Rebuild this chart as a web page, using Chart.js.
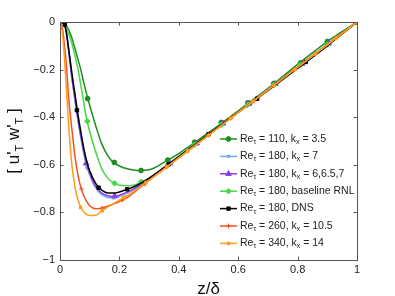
<!DOCTYPE html>
<html>
<head>
<meta charset="utf-8">
<script src="https://cdn.jsdelivr.net/npm/chart.js@4.4.1/dist/chart.umd.min.js"></script>
<style>
  html, body { margin: 0; padding: 0; background: #fff; }
  #wrap { width: 395px; height: 296px; }
</style>
</head>
<body>
<div id="wrap"><canvas id="chart" width="395" height="296"></canvas></div>
<script>
// ---- data ----
// wall-normal position z/delta shared by all curves
const zGrid = [0, 0.005, 0.01, 0.015, 0.02, 0.03, 0.04, 0.05, 0.06, 0.07, 0.08, 0.09, 0.10, 0.12, 0.14,
  0.16, 0.18, 0.20, 0.23, 0.26, 0.30, 0.35, 0.40, 0.50, 0.60, 0.70, 0.80, 0.90, 1.0];

// [u'_T w'_T] profiles
const uwRe110 = [0, -0.001, -0.003, -0.007, -0.012, -0.035, -0.067, -0.11, -0.155, -0.2, -0.255, -0.305, -0.35, -0.435, -0.51,
  -0.56, -0.59, -0.605, -0.618, -0.624, -0.621, -0.59, -0.553, -0.465, -0.373, -0.279, -0.178, -0.082, 0];
const uwRe180k7 = [0, -0.001, -0.004, -0.012, -0.03, -0.13, -0.235, -0.325, -0.41, -0.485, -0.553, -0.605, -0.643, -0.697, -0.726,
  -0.737, -0.739, -0.733, -0.717, -0.696, -0.662, -0.615, -0.568, -0.473, -0.379, -0.284, -0.19, -0.095, 0];
const uwRe180kMix = [0, -0.001, -0.004, -0.012, -0.03, -0.128, -0.232, -0.32, -0.405, -0.478, -0.545, -0.598, -0.636, -0.69, -0.718,
  -0.73, -0.733, -0.728, -0.713, -0.693, -0.66, -0.613, -0.566, -0.472, -0.378, -0.284, -0.19, -0.095, 0];
const uwRe180RNL = [0, -0.001, -0.005, -0.01, -0.02, -0.05, -0.09, -0.14, -0.195, -0.265, -0.34, -0.41, -0.46, -0.545, -0.615,
  -0.655, -0.676, -0.686, -0.688, -0.68, -0.657, -0.613, -0.566, -0.472, -0.378, -0.284, -0.19, -0.095, 0];
const uwDNS = [0, -0.001, -0.005, -0.012, -0.035, -0.12, -0.215, -0.30, -0.385, -0.46, -0.53, -0.585, -0.625, -0.678, -0.706,
  -0.718, -0.719, -0.714, -0.702, -0.686, -0.656, -0.612, -0.566, -0.472, -0.38, -0.288, -0.195, -0.1, 0];
const uwRe260 = [0, -0.01, -0.04, -0.1, -0.16, -0.33, -0.45, -0.56, -0.64, -0.695, -0.73, -0.755, -0.772, -0.785, -0.782,
  -0.774, -0.765, -0.755, -0.735, -0.705, -0.665, -0.618, -0.57, -0.475, -0.38, -0.285, -0.19, -0.095, 0];
const uwRe340 = [0, -0.02, -0.07, -0.15, -0.25, -0.45, -0.6, -0.69, -0.745, -0.778, -0.797, -0.808, -0.813, -0.812, -0.795,
  -0.778, -0.763, -0.748, -0.726, -0.702, -0.665, -0.618, -0.571, -0.476, -0.381, -0.286, -0.191, -0.096, 0];

// marker locations (sparser than the curves)
const markZ110 = [0.093, 0.183, 0.273, 0.363, 0.453, 0.543, 0.632, 0.72, 0.81, 0.90, 1.0];
const markUw110 = [-0.322, -0.59, -0.624, -0.58, -0.505, -0.422, -0.34, -0.258, -0.172, -0.082, 0];
const markZ180k7 = [0.09, 0.18, 0.27, 0.36, 0.45, 0.54, 0.63, 0.72, 0.81, 0.90, 1.0];
const markUw180k7 = [-0.612, -0.739, -0.688, -0.606, -0.52, -0.435, -0.351, -0.265, -0.18, -0.095, 0];
const markZ180kMix = [0.088, 0.184, 0.28, 0.37, 0.46, 0.549, 0.637, 0.725, 0.815, 0.905, 1.0];
const markUw180kMix = [-0.594, -0.732, -0.677, -0.594, -0.51, -0.426, -0.343, -0.26, -0.176, -0.09, 0];
const markZ180RNL = [0.092, 0.184, 0.273, 0.363, 0.453, 0.543, 0.632, 0.72, 0.81, 0.90, 1.0];
const markUw180RNL = [-0.417, -0.678, -0.672, -0.60, -0.515, -0.432, -0.348, -0.265, -0.18, -0.095, 0];
const markZDNS = [0.016, 0.057, 0.13, 0.226, 0.366, 0.50, 0.664, 0.828, 1.0];
const markUwDNS = [-0.011, -0.371, -0.696, -0.703, -0.598, -0.472, -0.322, -0.168, 0];
const markZ260 = [0.072, 0.142, 0.21, 0.285, 0.36, 0.43, 0.50, 0.575, 0.65, 0.72, 0.79, 0.86, 0.93, 1.0];
const markUw260 = [-0.702, -0.781, -0.748, -0.68, -0.608, -0.541, -0.475, -0.404, -0.333, -0.266, -0.2, -0.133, -0.067, 0];
const markZ340 = [0.069, 0.142, 0.215, 0.29, 0.36, 0.43, 0.50, 0.575, 0.65, 0.72, 0.79, 0.86, 0.93, 1.0];
const markUw340 = [-0.779, -0.793, -0.737, -0.674, -0.608, -0.542, -0.476, -0.405, -0.334, -0.267, -0.2, -0.134, -0.067, 0];

// legend labels ("_c" = subscript c)
const seriesLabels = [
  'Re_τ = 110, k_x = 3.5',
  'Re_τ = 180, k_x = 7',
  'Re_τ = 180, k_x = 6,6.5,7',
  'Re_τ = 180, baseline RNL',
  'Re_τ = 180, DNS',
  'Re_τ = 260, k_x = 10.5',
  'Re_τ = 340, k_x = 14'
];
const xTicks = [0, 0.2, 0.4, 0.6, 0.8, 1];
const yTicks = [-1, -0.8, -0.6, -0.4, -0.2, 0];

// ---- styles ----
const FONT = "'Liberation Sans', Arial, Helvetica, sans-serif";
const curves = [uwRe110, uwRe180k7, uwRe180kMix, uwRe180RNL, uwDNS, uwRe260, uwRe340];
const markZ = [markZ110, markZ180k7, markZ180kMix, markZ180RNL, markZDNS, markZ260, markZ340];
const markUw = [markUw110, markUw180k7, markUw180kMix, markUw180RNL, markUwDNS, markUw260, markUw340];
const lineColors = ['#1f8c1f', '#72a9f0', '#8a3fe6', '#46d646', '#000000', '#f4511e', '#ff9b1e'];
const pointStyles = ['circle', 'circle', 'triangle', 'rectRot', 'rect', 'cross', 'rect'];
const pointRadii = [2.4, 1.4, 3.2, 2.8, 2.4, 2.4, 1.8];

const datasets = [];
curves.forEach((c, i) => {
  datasets.push({
    label: seriesLabels[i],
    data: zGrid.map((z, k) => ({ x: z, y: c[k] })),
    showLine: true,
    borderColor: lineColors[i],
    borderWidth: 1.5,
    pointRadius: 0,
    cubicInterpolationMode: 'monotone',
    order: 2 * (7 - i)
  });
  datasets.push({
    label: seriesLabels[i] + ' markers',
    data: markZ[i].map((z, k) => ({ x: z, y: markUw[i][k] })),
    showLine: false,
    pointStyle: pointStyles[i],
    pointRadius: pointRadii[i],
    pointBackgroundColor: lineColors[i],
    pointBorderColor: lineColors[i],
    pointBorderWidth: 1,
    order: 2 * (7 - i) - 1
  });
});

function fmtTick(v) {
  const r = Math.round(v * 10) / 10;
  return String(r).replace('-', '\u2212');
}

// draws "Re_τ" style text, returns width
function richText(ctx, str, x, y, size, subSize, drop, measureOnly) {
  const parts = [];
  const re = /_(.)|([^_]+)/g;
  let m;
  while ((m = re.exec(str)) !== null) {
    if (m[1]) parts.push({ t: m[1], sub: true });
    else parts.push({ t: m[2], sub: false });
  }
  let cx = x;
  parts.forEach(p => {
    ctx.font = (p.sub ? subSize : size) + 'px ' + FONT;
    if (!measureOnly) ctx.fillText(p.t, cx, p.sub ? y + drop : y);
    cx += ctx.measureText(p.t).width;
  });
  return cx - x;
}

// MATLAB-like box with inward ticks, legend and axis titles
const decorPlugin = {
  id: 'decor',
  afterDatasetsDraw(chart) {
    const { ctx, chartArea: a, scales: { x, y } } = chart;
    ctx.save();
    ctx.lineWidth = 1;
    ctx.strokeStyle = '#555';
    ctx.strokeRect(a.left + 0.5, a.top + 0.5, a.right - a.left, a.bottom - a.top);
    ctx.beginPath();
    xTicks.forEach(t => {
      const px = Math.round(x.getPixelForValue(t)) + 0.5;
      ctx.moveTo(px, a.bottom); ctx.lineTo(px, a.bottom - 3.5);
      ctx.moveTo(px, a.top); ctx.lineTo(px, a.top + 3.5);
    });
    yTicks.forEach(t => {
      const py = Math.round(y.getPixelForValue(t)) + 0.5;
      ctx.moveTo(a.left, py); ctx.lineTo(a.left + 3.5, py);
      ctx.moveTo(a.right, py); ctx.lineTo(a.right - 3.5, py);
    });
    ctx.stroke();

    // legend
    const lx0 = a.right - 137, lx1 = a.right - 120, tx = a.right - 117;
    const ly0 = a.top + 117, step = 17.4;
    ctx.textBaseline = 'middle';
    ctx.textAlign = 'left';
    seriesLabels.forEach((lab, i) => {
      const ly = ly0 + i * step;
      ctx.strokeStyle = lineColors[i];
      ctx.lineWidth = 1.5;
      ctx.beginPath();
      ctx.moveTo(lx0, ly); ctx.lineTo(lx1, ly);
      ctx.stroke();
      ctx.fillStyle = lineColors[i];
      ctx.lineWidth = 1;
      if (Chart.helpers && Chart.helpers.drawPoint) {
        Chart.helpers.drawPoint(ctx, { pointStyle: pointStyles[i], radius: pointRadii[i], rotation: 0, borderWidth: 1 },
          (lx0 + lx1) / 2, ly);
      }
      ctx.fillStyle = '#222';
      richText(ctx, lab, tx, ly, 10.5, 7, 3);
    });

    // x title
    ctx.fillStyle = '#111';
    ctx.textBaseline = 'alphabetic';
    ctx.font = '17px ' + FONT;
    ctx.textAlign = 'center';
    ctx.fillText('z/\u03b4', (a.left + a.right) / 2, 294);

    // y title, rotated
    ctx.textAlign = 'left';
    const yTitle = "[ u'_T w'_T ]";
    const w = richText(ctx, yTitle, 0, 0, 17, 11, 4, true);
    ctx.translate(19, 141);
    ctx.rotate(-Math.PI / 2);
    richText(ctx, yTitle, -w / 2, 0, 17, 11, 4);
    ctx.restore();
  }
};

new Chart(document.getElementById('chart'), {
  type: 'scatter',
  data: { datasets },
  options: {
    responsive: false,
    animation: false,
    events: [],
    layout: { padding: { left: 0, top: 22, right: 38, bottom: 0 } },
    plugins: { legend: { display: false }, tooltip: { enabled: false } },
    scales: {
      x: {
        type: 'linear', min: 0, max: 1,
        grid: { display: false, drawTicks: false },
        border: { display: false },
        ticks: { stepSize: 0.2, padding: 3, color: '#222', font: { family: FONT, size: 11 }, callback: fmtTick, maxRotation: 0 },
        afterFit(s) { s.height = 36; }
      },
      y: {
        type: 'linear', min: -1, max: 0,
        grid: { display: false, drawTicks: false },
        border: { display: false },
        ticks: { stepSize: 0.2, padding: 5, color: '#222', font: { family: FONT, size: 11 }, callback: fmtTick },
        afterFit(s) { s.width = 60; }
      }
    }
  },
  plugins: [decorPlugin]
});
</script>
</body>
</html>
